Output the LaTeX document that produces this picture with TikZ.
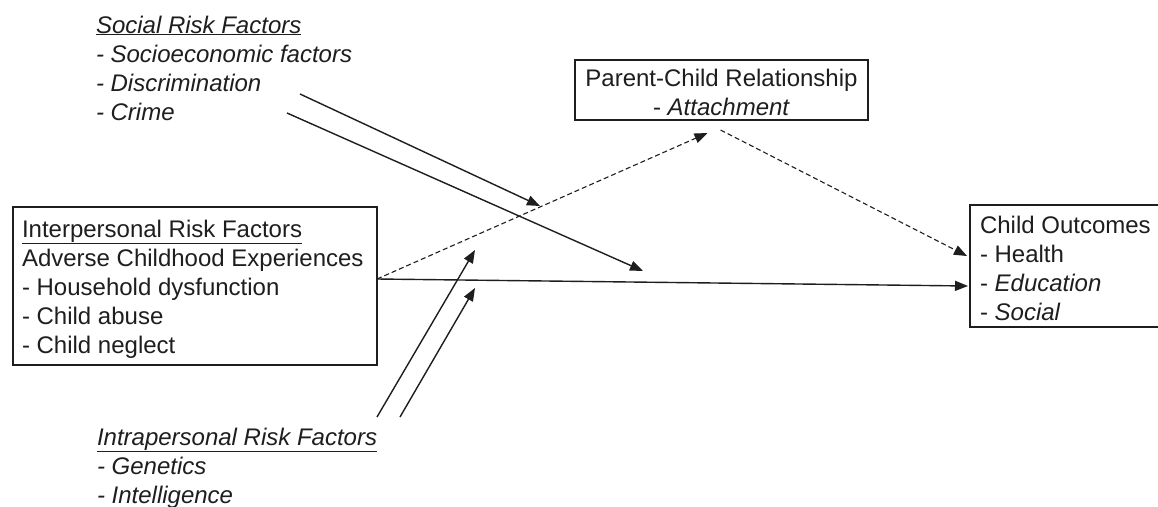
\documentclass[tikz,border=0pt]{standalone}
\usepackage{fontspec}
\setmainfont{Liberation Sans}
\usetikzlibrary{arrows.meta,calc}
\definecolor{ink}{HTML}{1E1E1E}
\begin{document}
\begin{tikzpicture}[x=1pt,y=-1pt,
  every node/.style={inner sep=0pt, outer sep=0pt, text=ink,
    font=\fontsize{24}{29}\selectfont},
  txt/.style={anchor=base west, align=left},
  frame/.style={draw=ink, line width=1.4pt, anchor=north west},
  solidarrow/.style={draw=ink, line width=1.4pt, -{Triangle[length=13pt,width=10pt]}},
  dasharrow/.style={draw=ink, line width=1.1pt, dash pattern=on 5pt off 3pt, -{Triangle[length=13pt,width=10pt]}}
]
\useasboundingbox (0,0) rectangle (1158,506);
\fill[white] (0,0) rectangle (1158,506);

% boxes
\node[frame, minimum width=364pt, minimum height=158pt] (inter) at (13,207) {};
\node[frame, minimum width=293pt, minimum height=60pt] (parent) at (575,60) {};
\node[frame, minimum width=190pt, minimum height=122pt] (outc) at (970,205) {};

% texts (anchored at the baseline of their last line)
\node[txt] (socialtxt) at (96,120) {\textit{\underline{Social Risk Factors}}\\
  \textit{- Socioeconomic factors}\\
  \textit{- Discrimination}\\
  \textit{- Crime}};
\node[txt] (intertxt) at (22,353) {\underline{Interpersonal Risk Factors}\\
  Adverse Childhood Experiences\\
  - Household dysfunction\\
  - Child abuse\\
  - Child neglect};
\node[anchor=base, align=center] (parenttxt) at (721.5,115) {Parent-Child Relationship\\
  - \textit{Attachment}};
\node[txt] (outctxt) at (980,320) {Child Outcomes\\
  - Health\\
  - \textit{Education}\\
  - \textit{Social}};
\node[txt] (intratxt) at (97,503) {\textit{\underline{Intrapersonal Risk Factors}}\\
  \textit{- Genetics}\\
  \textit{- Intelligence}};

% connector end points
\coordinate (ipout) at ($(inter.north east)+(0,72)$);
\coordinate (outsolid) at ($(outc.north west)+(-2,81)$);
\coordinate (outdash) at ($(outc.north west)+(-3,51)$);
\coordinate (pcin) at ($(parent.south)+(-14,13)$);
\coordinate (pcout) at ($(parent.south)+(-1,10)$);
\coordinate (socA) at (300,94);
\coordinate (socAe) at (540,206);
\coordinate (socB) at (287,113);
\coordinate (socBe) at (643,271);
\coordinate (intA) at (377,417);
\coordinate (intAe) at (475,250);
\coordinate (intB) at (400,417);
\coordinate (intBe) at (475,288);

% connectors
\draw[solidarrow] (ipout) -- (outsolid);
\draw[dasharrow] (ipout) -- (pcin);
\draw[dasharrow] (pcout) -- (outdash);
\draw[solidarrow] (socA) -- (socAe);
\draw[solidarrow] (socB) -- (socBe);
\draw[solidarrow] (intA) -- (intAe);
\draw[solidarrow] (intB) -- (intBe);
\end{tikzpicture}
\end{document}
